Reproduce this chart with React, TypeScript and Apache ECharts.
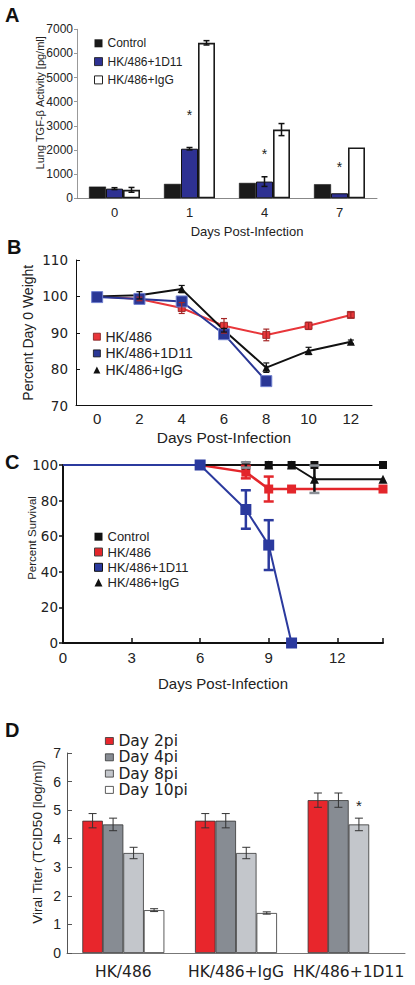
import React, { useEffect, useRef } from 'react';
import * as echarts from 'echarts';

const ARIAL = '"Liberation Sans", Arial, sans-serif';
const DEJAVU = '"DejaVu Sans", sans-serif';

// ---------- Panel A: Lung TGF-beta activity ----------
const aCategories = ['0', '1', '4', '7'];
const aControl = [483, 596, 637, 583];
const a1D11 = [400, 2054, 692, 208];
const a1D11Err = [40, 50, 200, 0];
const aIgG = [350, 6440, 2846, 2108];
const aIgGErr = [100, 90, 250, 0];
const aStarCats = [1, 2, 3];
const aStarValues = [3470, 1833, 1317];

// ---------- Panel B: weight ----------
const bDays = [0, 2, 4, 6, 8, 10, 12];
const bHK486 = [100, 99.3, 96.8, 91.9, 89.4, 91.9, 94.9];
const bHK486Err = [0, 0.5, 1.5, 2, 1.6, 1, 0.8];
const b1D11Days = [0, 2, 4, 6, 8];
const b1D11 = [99.8, 99.3, 98.6, 89.6, 76.7];
const bIgG = [100, 100.3, 102, 90.7, 80.4, 85, 87.5];
const bIgGErr = [0, 1, 1, 0.5, 1.3, 1, 0.5];
const bXTicks = [0, 2, 4, 6, 8, 10, 12];

// ---------- Panel C: survival ----------
const cControlDays = [6, 8, 9, 10, 11, 14];
const cControl = [100, 100, 100, 100, 100, 100];
const cHK486Days = [6, 8, 9, 10, 14];
const cHK486 = [100, 96, 86.5, 86.5, 86.5];
const cHK486Err = [0, 3.5, 7, 0, 0];
const c1D11Days = [0, 6, 8, 9, 10];
const c1D11 = [100, 100, 75, 55, 0];
const c1D11Err = [0, 0, 10.8, 14, 0];
const cIgGDays = [6, 8, 9, 10, 11, 14];
const cIgG = [100, 100, 100, 100, 92, 92];
const cIgGErr = [0, 1.5, 0, 0, 7.7, 0];
const cXLabels = [0, 3, 6, 9, 12];
const cXTicks = [0, 3, 6, 9, 12, 14];

// ---------- Panel D: viral titer ----------
const dGroups = ['HK/486', 'HK/486+IgG', 'HK/486+1D11'];
const dDay2 = [4.63, 4.63, 5.35];
const dDay2Err = [0.25, 0.25, 0.25];
const dDay4 = [4.5, 4.63, 5.35];
const dDay4Err = [0.22, 0.25, 0.25];
const dDay8 = [3.5, 3.5, 4.5];
const dDay8Err = [0.2, 0.2, 0.22];
const dDay10 = [1.5, 1.4, null];
const dDay10Err = [0.05, 0.04, 0];
const dStarGroups = [2];
const dStarValues = [5.15];

function errorSeries(
  gi: number,
  xs: number[],
  vals: (number | null)[],
  errs: number[],
  offset: number,
  color: string,
  cap: number,
  lw: number,
  capColor?: string
) {
  const data: number[][] = [];
  xs.forEach((x, i) => {
    const v = vals[i];
    if (v != null && errs[i] > 0) data.push([x, v, errs[i]]);
  });
  return {
    type: 'custom',
    xAxisIndex: gi,
    yAxisIndex: gi,
    silent: true,
    z: 4,
    data,
    renderItem: (_p: any, api: any) => {
      const x = api.value(0);
      const v = api.value(1);
      const e = api.value(2);
      const hi = api.coord([x, v + e]);
      const lo = api.coord([x, v - e]);
      const cx = hi[0] + offset;
      return {
        type: 'group',
        children: [
          { type: 'line', shape: { x1: cx, y1: hi[1], x2: cx, y2: lo[1] }, style: { stroke: color, lineWidth: lw } },
          { type: 'line', shape: { x1: cx - cap / 2, y1: hi[1], x2: cx + cap / 2, y2: hi[1] }, style: { stroke: capColor || color, lineWidth: lw } },
          { type: 'line', shape: { x1: cx - cap / 2, y1: lo[1], x2: cx + cap / 2, y2: lo[1] }, style: { stroke: capColor || color, lineWidth: lw } },
        ],
      };
    },
  };
}

function starSeries(gi: number, xs: number[], vals: number[], offset: number, size: number) {
  return {
    type: 'custom',
    xAxisIndex: gi,
    yAxisIndex: gi,
    silent: true,
    z: 5,
    data: xs.map((x, i) => [x, vals[i]]),
    renderItem: (_p: any, api: any) => {
      const c = api.coord([api.value(0), api.value(1)]);
      return {
        type: 'text',
        x: c[0] + offset,
        y: c[1],
        style: {
          text: '*',
          fill: '#222',
          font: `${size}px ${ARIAL}`,
          textAlign: 'center',
          textVerticalAlign: 'middle',
          align: 'center',
          verticalAlign: 'middle',
        },
      };
    },
  };
}

const zip = (xs: number[], ys: number[]) => xs.map((x, i) => [x, ys[i]]);
const idx = (arr: any[]) => arr.map((_, i) => i);

const A_BW = 17;
const D_BW = 20.5;

const panelLabel = (text: string, x: number, y: number) => ({
  type: 'text',
  x,
  y,
  style: {
    text,
    fill: '#111',
    font: `bold 20px ${ARIAL}`,
    textVerticalAlign: 'middle',
    verticalAlign: 'middle',
  },
});

const option: any = {
  animation: false,
  backgroundColor: '#fff',
  textStyle: { fontFamily: ARIAL, color: '#222' },
  graphic: [
    panelLabel('A', 5, 15),
    panelLabel('B', 7, 246.5),
    panelLabel('C', 5, 461.5),
    panelLabel('D', 5, 730),
  ],
  grid: [
    { left: 77, top: 29.3, width: 300, height: 169, outerBoundsMode: 'none' },
    { left: 76, top: 260, width: 296, height: 145.5, outerBoundsMode: 'none' },
    { left: 63, top: 465, width: 320, height: 178, outerBoundsMode: 'none' },
    { left: 67, top: 753, width: 338, height: 200, outerBoundsMode: 'none' },
  ],
  legend: [
    {
      orient: 'vertical',
      left: 94,
      top: 35.3,
      padding: 0,
      itemWidth: 8,
      itemHeight: 8,
      itemGap: 2.3,
      selectedMode: false,
      textStyle: { fontFamily: ARIAL, fontSize: 12, color: '#222', lineHeight: 16 },
      data: [
        { name: 'Control', icon: 'rect', itemStyle: { color: '#1a1a1a', borderWidth: 0 } },
        { name: 'HK/486+1D11', icon: 'rect', itemStyle: { color: '#2e3192', borderColor: '#111', borderWidth: 0.8 } },
        { name: 'HK/486+IgG', icon: 'rect', itemStyle: { color: '#fff', borderColor: '#222', borderWidth: 1 } },
      ],
    },
    {
      orient: 'vertical',
      left: 93,
      top: 328.7,
      padding: 0,
      itemWidth: 7,
      itemHeight: 7,
      itemGap: 0.7,
      selectedMode: false,
      textStyle: { fontFamily: ARIAL, fontSize: 14, color: '#222', lineHeight: 16 },
      data: [
        { name: 'HK/486', icon: 'rect', itemStyle: { color: '#e8363a', borderColor: '#7a1a1a', borderWidth: 0.8 } },
        { name: 'HK/486+1D11', icon: 'rect', itemStyle: { color: '#2a3795', borderColor: '#111', borderWidth: 0.8 } },
        { name: 'HK/486+IgG', icon: 'triangle', itemStyle: { color: '#111', borderWidth: 0 } },
      ],
    },
    {
      orient: 'vertical',
      left: 94,
      top: 529.2,
      padding: 0,
      itemWidth: 8,
      itemHeight: 8,
      itemGap: 0.3,
      selectedMode: false,
      textStyle: { fontFamily: ARIAL, fontSize: 13, color: '#222', lineHeight: 15 },
      data: [
        { name: 'Control', icon: 'rect', itemStyle: { color: '#111', borderWidth: 0 } },
        { name: 'HK/486', icon: 'rect', itemStyle: { color: '#e3262b', borderColor: '#444', borderWidth: 1 } },
        { name: 'HK/486+1D11', icon: 'rect', itemStyle: { color: '#2b3a9e', borderColor: '#111', borderWidth: 1 } },
        { name: 'HK/486+IgG', icon: 'triangle', itemStyle: { color: '#111', borderWidth: 0 } },
      ],
    },
    {
      orient: 'vertical',
      left: 105,
      top: 733,
      padding: 0,
      itemWidth: 8,
      itemHeight: 7,
      itemGap: 0.3,
      selectedMode: false,
      textStyle: { fontFamily: DEJAVU, fontSize: 15.5, color: '#222', lineHeight: 14 },
      data: [
        { name: 'Day 2pi', icon: 'rect', itemStyle: { color: '#e8262c', borderColor: '#333', borderWidth: 0.8 } },
        { name: 'Day 4pi', icon: 'rect', itemStyle: { color: '#878c93', borderColor: '#333', borderWidth: 0.8 } },
        { name: 'Day 8pi', icon: 'rect', itemStyle: { color: '#c3c6cb', borderColor: '#333', borderWidth: 0.8 } },
        { name: 'Day 10pi', icon: 'rect', itemStyle: { color: '#fff', borderColor: '#333', borderWidth: 0.8 } },
      ],
    },
  ],
  xAxis: [
    {
      gridIndex: 0,
      type: 'category',
      data: aCategories,
      axisLine: { onZero: false, lineStyle: { color: '#888', width: 1 } },
      axisTick: { show: false },
      axisLabel: { margin: 8, fontSize: 13, fontFamily: ARIAL, color: '#222' },
      name: 'Days Post-Infection',
      nameLocation: 'middle',
      nameGap: 26.5,
      nameMoveOverlap: false,
      nameTextStyle: { fontSize: 13, fontFamily: ARIAL, color: '#222', padding: [0, 0, 0, 40] },
    },
    {
      gridIndex: 1,
      type: 'value',
      min: -1,
      max: 13,
      splitLine: { show: false },
      axisLine: { onZero: false, lineStyle: { color: '#111', width: 1 } },
      axisTick: { show: false },
      axisLabel: { customValues: bXTicks, margin: 5, fontSize: 15, fontFamily: ARIAL, color: '#222' },
      name: 'Days Post-Infection',
      nameLocation: 'middle',
      nameGap: 23.5,
      nameMoveOverlap: false,
      nameTextStyle: { fontSize: 15.5, fontFamily: ARIAL, color: '#222' },
    },
    {
      gridIndex: 2,
      type: 'value',
      min: 0,
      max: 14,
      splitLine: { show: false },
      axisLine: { onZero: false, lineStyle: { color: '#111', width: 2 } },
      axisTick: { customValues: cXTicks, inside: true, length: 5, lineStyle: { color: '#111', width: 1.5 } },
      axisLabel: { customValues: cXLabels, margin: 7, fontSize: 15, fontFamily: ARIAL, color: '#222' },
      name: 'Days Post-Infection',
      nameLocation: 'middle',
      nameGap: 32.5,
      nameMoveOverlap: false,
      nameTextStyle: { fontSize: 15, fontFamily: ARIAL, color: '#222' },
    },
    {
      gridIndex: 3,
      type: 'category',
      data: dGroups,
      axisLine: { onZero: false, lineStyle: { color: '#777', width: 1 } },
      axisTick: { show: false },
      axisLabel: { interval: 0, margin: 11, fontSize: 15.5, fontFamily: DEJAVU, color: '#222' },
    },
  ],
  yAxis: [
    {
      gridIndex: 0,
      type: 'value',
      min: 0,
      max: 7000,
      interval: 1000,
      splitLine: { show: false },
      axisLine: { show: true, onZero: false, lineStyle: { color: '#999', width: 1 } },
      axisTick: { show: true, length: 3, lineStyle: { color: '#999' } },
      axisLabel: { margin: 4, fontSize: 12, fontFamily: ARIAL, color: '#222', formatter: (v: number) => String(v) },
      name: 'Lung TGF-β Activity [pg/ml]',
      nameLocation: 'middle',
      nameRotate: 90,
      nameGap: 32,
      nameMoveOverlap: false,
      nameTextStyle: { fontSize: 11, fontFamily: ARIAL, color: '#222', padding: [0, 0, 0, 22] },
    },
    {
      gridIndex: 1,
      type: 'value',
      min: 70,
      max: 110,
      interval: 10,
      splitLine: { show: false },
      axisLine: { show: true, onZero: false, lineStyle: { color: '#111', width: 1 } },
      axisTick: { show: true, inside: true, length: 4, lineStyle: { color: '#111' } },
      axisLabel: { margin: 8, fontSize: 13.5, fontFamily: DEJAVU, color: '#222' },
      name: 'Percent Day 0 Weight',
      nameLocation: 'middle',
      nameRotate: 90,
      nameGap: 41,
      nameMoveOverlap: false,
      nameTextStyle: { fontSize: 14, fontFamily: ARIAL, color: '#222' },
    },
    {
      gridIndex: 2,
      type: 'value',
      min: 0,
      max: 100,
      interval: 20,
      splitLine: { show: false },
      axisLine: { show: true, onZero: false, lineStyle: { color: '#111', width: 2 } },
      axisTick: { show: true, length: 4, lineStyle: { color: '#111', width: 1.5 } },
      axisLabel: { margin: 5, fontSize: 13.5, fontFamily: DEJAVU, color: '#222' },
      name: 'Percent Survival',
      nameLocation: 'middle',
      nameRotate: 90,
      nameGap: 25,
      nameMoveOverlap: false,
      nameTextStyle: { fontSize: 11.5, fontFamily: ARIAL, color: '#222', padding: [0, 0, 0, 32] },
    },
    {
      gridIndex: 3,
      type: 'value',
      min: 0,
      max: 7,
      interval: 1,
      splitLine: { show: false },
      axisLine: { show: true, onZero: false, lineStyle: { color: '#555', width: 1 } },
      axisTick: { show: true, inside: true, length: 5, lineStyle: { color: '#555' } },
      axisLabel: { margin: 6, fontSize: 14, fontFamily: ARIAL, color: '#222' },
      name: 'Viral Titer (TCID50 [log/ml])',
      nameLocation: 'middle',
      nameRotate: 90,
      nameGap: 23,
      nameMoveOverlap: false,
      nameTextStyle: { fontSize: 13.5, fontFamily: ARIAL, color: '#222', padding: [0, 0, 0, 22] },
    },
  ],
  series: [
    // ----- A -----
    {
      name: 'Control',
      type: 'bar',
      xAxisIndex: 0,
      yAxisIndex: 0,
      barWidth: A_BW,
      barGap: '0%',
      data: aControl,
      itemStyle: { color: '#1a1a1a', borderColor: '#111', borderWidth: 0.5 },
    },
    {
      name: 'HK/486+1D11',
      type: 'bar',
      xAxisIndex: 0,
      yAxisIndex: 0,
      barWidth: A_BW,
      barGap: '0%',
      data: a1D11,
      itemStyle: { color: '#2e3192', borderColor: '#111', borderWidth: 1 },
    },
    {
      name: 'HK/486+IgG',
      type: 'bar',
      xAxisIndex: 0,
      yAxisIndex: 0,
      barWidth: A_BW,
      barGap: '0%',
      data: aIgG,
      itemStyle: { color: '#fff', borderColor: '#1a1a1a', borderWidth: 1.6 },
    },
    errorSeries(0, idx(aCategories), a1D11, a1D11Err, 0, '#111', 6, 1.5),
    errorSeries(0, idx(aCategories), aIgG, aIgGErr, A_BW, '#111', 6, 1.5),
    starSeries(0, aStarCats, aStarValues, 0, 14),

    // ----- B -----
    {
      name: 'HK/486',
      type: 'line',
      xAxisIndex: 1,
      yAxisIndex: 1,
      data: zip(bDays, bHK486),
      symbol: 'rect',
      symbolSize: 7,
      lineStyle: { color: '#e8363a', width: 2 },
      itemStyle: { color: '#e8363a', borderColor: '#8a2020', borderWidth: 0.8 },
    },
    {
      name: 'HK/486+IgG',
      type: 'line',
      xAxisIndex: 1,
      yAxisIndex: 1,
      data: zip(bDays, bIgG),
      symbol: 'triangle',
      symbolSize: 8,
      lineStyle: { color: '#111', width: 2 },
      itemStyle: { color: '#111' },
    },
    {
      name: 'HK/486+1D11',
      type: 'line',
      xAxisIndex: 1,
      yAxisIndex: 1,
      data: zip(b1D11Days, b1D11),
      symbol: 'rect',
      symbolSize: 11,
      lineStyle: { color: '#2a3795', width: 2 },
      itemStyle: { color: '#2a3795', borderColor: '#6f7fcf', borderWidth: 1 },
    },
    errorSeries(1, bDays, bHK486, bHK486Err, 0, '#a52525', 6, 1.2),
    errorSeries(1, bDays, bIgG, bIgGErr, 0, '#111', 6, 1.2),

    // ----- C -----
    {
      name: 'HK/486',
      type: 'line',
      xAxisIndex: 2,
      yAxisIndex: 2,
      clip: false,
      data: zip(cHK486Days, cHK486),
      symbol: 'rect',
      symbolSize: 9,
      lineStyle: { color: '#e3262b', width: 2.5 },
      itemStyle: { color: '#e3262b' },
    },
    {
      name: 'Control',
      type: 'line',
      xAxisIndex: 2,
      yAxisIndex: 2,
      clip: false,
      data: zip(cControlDays, cControl),
      symbol: 'rect',
      symbolSize: 8,
      lineStyle: { color: '#111', width: 2 },
      itemStyle: { color: '#111' },
    },
    {
      name: 'HK/486+IgG',
      type: 'line',
      xAxisIndex: 2,
      yAxisIndex: 2,
      clip: false,
      data: zip(cIgGDays, cIgG),
      symbol: 'triangle',
      symbolSize: 9,
      lineStyle: { color: '#111', width: 2 },
      itemStyle: { color: '#111' },
    },
    {
      name: 'HK/486+1D11',
      type: 'line',
      xAxisIndex: 2,
      yAxisIndex: 2,
      clip: false,
      data: c1D11Days.map((d, i) =>
        i === 0 ? { value: [d, c1D11[i]], symbol: 'none' } : { value: [d, c1D11[i]] }
      ),
      symbol: 'rect',
      symbolSize: 11,
      lineStyle: { color: '#2b3a9e', width: 2 },
      itemStyle: { color: '#2b3a9e' },
    },
    errorSeries(2, cHK486Days, cHK486, cHK486Err, 0, '#e3262b', 10, 2.5),
    errorSeries(2, c1D11Days, c1D11, c1D11Err, 0, '#2b3a9e', 10, 2.5),
    errorSeries(2, cIgGDays, cIgG, cIgGErr, 0, '#111', 10, 2.5, '#8a8f96'),

    // ----- D -----
    {
      name: 'Day 2pi',
      type: 'bar',
      xAxisIndex: 3,
      yAxisIndex: 3,
      barWidth: D_BW,
      barGap: '0%',
      data: dDay2,
      itemStyle: { color: '#e8262c', borderColor: '#333', borderWidth: 0.8 },
    },
    {
      name: 'Day 4pi',
      type: 'bar',
      xAxisIndex: 3,
      yAxisIndex: 3,
      barWidth: D_BW,
      barGap: '0%',
      data: dDay4,
      itemStyle: { color: '#878c93', borderColor: '#333', borderWidth: 0.8 },
    },
    {
      name: 'Day 8pi',
      type: 'bar',
      xAxisIndex: 3,
      yAxisIndex: 3,
      barWidth: D_BW,
      barGap: '0%',
      data: dDay8,
      itemStyle: { color: '#c3c6cb', borderColor: '#333', borderWidth: 0.8 },
    },
    {
      name: 'Day 10pi',
      type: 'bar',
      xAxisIndex: 3,
      yAxisIndex: 3,
      barWidth: D_BW,
      barGap: '0%',
      data: dDay10,
      itemStyle: { color: '#fff', borderColor: '#333', borderWidth: 0.8 },
    },
    errorSeries(3, idx(dGroups), dDay2, dDay2Err, -1.5 * D_BW, '#333', 8, 1),
    errorSeries(3, idx(dGroups), dDay4, dDay4Err, -0.5 * D_BW, '#333', 8, 1),
    errorSeries(3, idx(dGroups), dDay8, dDay8Err, 0.5 * D_BW, '#333', 8, 1),
    errorSeries(3, idx(dGroups), dDay10, dDay10Err, 1.5 * D_BW, '#333', 8, 1),
    starSeries(3, dStarGroups, dStarValues, 0.5 * D_BW, 15),
  ],
};

export default function App() {
  const ref = useRef<HTMLDivElement>(null);
  useEffect(() => {
    if (!ref.current) return;
    const chart = echarts.init(ref.current, null, { renderer: 'svg' });
    chart.setOption(option);
    return () => chart.dispose();
  }, []);
  return (
    <div
      ref={ref}
      style={{ position: 'absolute', left: 0, top: 0, width: 415, height: 985, background: '#fff' }}
    />
  );
}
